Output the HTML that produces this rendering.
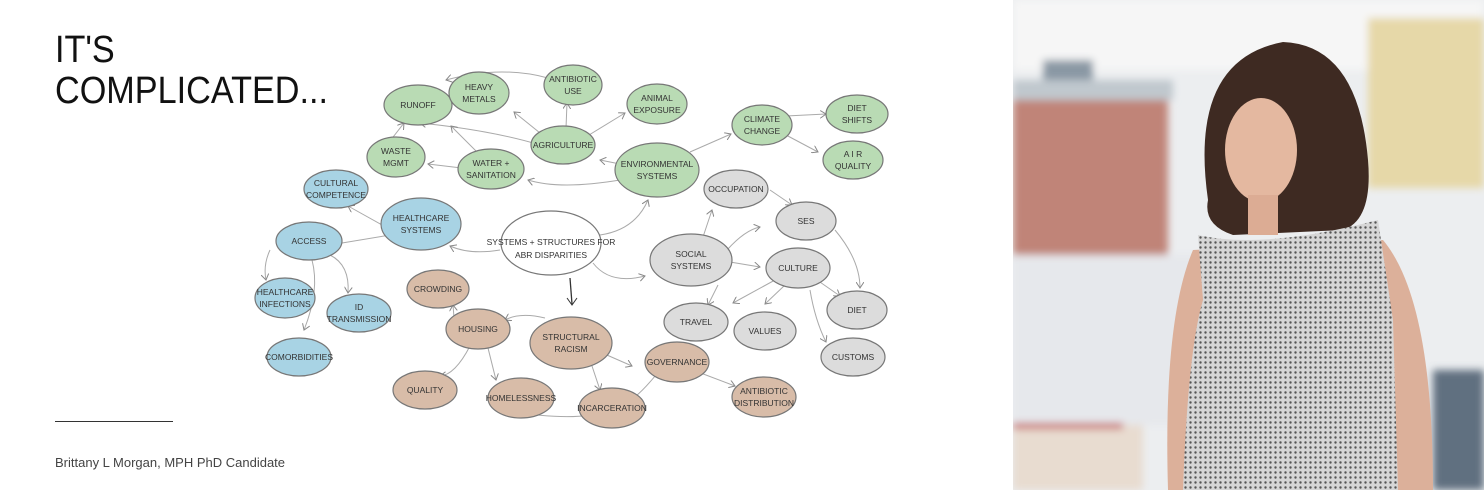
<!DOCTYPE html>
<html><head><meta charset="utf-8"><style>
body{margin:0;width:1484px;height:490px;background:#fff;overflow:hidden;position:relative;font-family:"Liberation Sans",sans-serif}
.t{position:absolute;left:55px;top:30px;font-size:38px;line-height:41px;color:#111;font-weight:300;transform:scaleX(0.9);transform-origin:left}
.ln{position:absolute;left:55px;top:421px;width:118px;height:1px;background:#333}
.ft{position:absolute;left:55px;top:455px;font-size:13px;color:#444}
svg text{font-family:"Liberation Sans",sans-serif;font-size:8.5px;fill:#333;text-anchor:middle}
</style></head><body>
<div class="t">IT'S<br>COMPLICATED...</div>
<div class="ln"></div>
<div class="ft">Brittany L Morgan, MPH PhD Candidate</div>
<svg width="1484" height="490" style="position:absolute;left:0;top:0">
<defs><marker id="a" markerWidth="8" markerHeight="8" refX="6" refY="4" orient="auto"><path d="M0,0 L6,4 L0,8" fill="none" stroke="#888" stroke-width="1"/></marker>
<pattern id="dots" width="5" height="5" patternUnits="userSpaceOnUse"><rect width="5" height="5" fill="#d6d6d6"/><circle cx="2.5" cy="2.5" r="1.2" fill="#555"/></pattern>
<filter id="bl"><feGaussianBlur stdDeviation="4"/></filter></defs>
<g stroke="#aaa" stroke-width="1" fill="none" marker-end="url(#a)">
<path d="M548,78 Q500,65 446,80"/><path d="M450,97 L439,99"/><path d="M540,145 Q490,130 420,123"/>
<path d="M545,137 L514,112"/><path d="M566,128 L567,103"/><path d="M589,135 L625,113"/>
<path d="M480,155 L451,126"/><path d="M470,169 L428,164"/><path d="M390,141 L404,123"/>
<path d="M620,180 Q560,190 528,180"/><path d="M625,165 L600,160"/><path d="M690,152 L731,134"/>
<path d="M786,116 L826,114"/><path d="M786,135 L818,152"/>
<path d="M600,235 Q635,230 648,200"/><path d="M500,250 Q470,255 450,246"/><path d="M384,226 L348,206"/>
<path d="M390,235 L330,245"/><path d="M270,250 Q263,265 266,280"/><path d="M312,260 Q320,290 304,330"/><path d="M330,255 Q350,265 348,293"/>
<path d="M593,263 Q610,285 645,276"/><path d="M703,237 L712,210"/><path d="M727,250 Q745,230 760,227"/><path d="M730,262 L760,267"/>
<path d="M770,190 L792,205"/><path d="M835,230 Q860,260 860,288"/><path d="M817,280 L840,296"/>
<path d="M785,285 L765,304"/><path d="M775,280 L733,303"/><path d="M810,290 Q815,320 826,342"/><path d="M718,285 L708,305"/>
<path d="M545,318 Q520,312 505,320"/><path d="M600,352 L632,366"/><path d="M590,360 L600,390"/>
<path d="M470,346 Q455,375 440,376"/><path d="M488,348 L496,380"/><path d="M660,370 Q640,395 630,400"/><path d="M698,372 L735,386"/>
<path d="M590,415 Q560,420 500,410"/><path d="M455,330 L453,305"/>
</g>
<g stroke="#777" stroke-width="1.2">
<g fill="#b9dbb4">
<ellipse cx="418" cy="105" rx="34" ry="20"/><ellipse cx="479" cy="93" rx="30" ry="21"/><ellipse cx="573" cy="85" rx="29" ry="20"/>
<ellipse cx="657" cy="104" rx="30" ry="20"/><ellipse cx="563" cy="145" rx="32" ry="19"/><ellipse cx="491" cy="169" rx="33" ry="20"/>
<ellipse cx="396" cy="157" rx="29" ry="20"/><ellipse cx="657" cy="170" rx="42" ry="27"/><ellipse cx="762" cy="125" rx="30" ry="20"/>
<ellipse cx="857" cy="114" rx="31" ry="19"/><ellipse cx="853" cy="160" rx="30" ry="19"/></g>
<g fill="#a8d3e4">
<ellipse cx="336" cy="189" rx="32" ry="19"/><ellipse cx="421" cy="224" rx="40" ry="26"/><ellipse cx="309" cy="241" rx="33" ry="19"/>
<ellipse cx="285" cy="298" rx="30" ry="20"/><ellipse cx="359" cy="313" rx="32" ry="19"/><ellipse cx="299" cy="357" rx="32" ry="19"/></g>
<ellipse cx="551" cy="243" rx="50" ry="32" fill="#fff"/>
<g fill="#dcdcdc">
<ellipse cx="736" cy="189" rx="32" ry="19"/><ellipse cx="806" cy="221" rx="30" ry="19"/><ellipse cx="691" cy="260" rx="41" ry="26"/>
<ellipse cx="798" cy="268" rx="32" ry="20"/><ellipse cx="857" cy="310" rx="30" ry="19"/><ellipse cx="696" cy="322" rx="32" ry="19"/>
<ellipse cx="765" cy="331" rx="31" ry="19"/><ellipse cx="853" cy="357" rx="32" ry="19"/></g>
<g fill="#d8bca8">
<ellipse cx="438" cy="289" rx="31" ry="19"/><ellipse cx="478" cy="329" rx="32" ry="20"/><ellipse cx="571" cy="343" rx="41" ry="26"/>
<ellipse cx="677" cy="362" rx="32" ry="20"/><ellipse cx="425" cy="390" rx="32" ry="19"/><ellipse cx="521" cy="398" rx="33" ry="20"/>
<ellipse cx="612" cy="408" rx="33" ry="20"/><ellipse cx="764" cy="397" rx="32" ry="20"/></g>
</g>
<path d="M570,278 L572,304" stroke="#333" stroke-width="1.3" fill="none"/><path d="M567,298 L572,305 L577,298" stroke="#333" fill="none"/>
<g>
<text x="418" y="108">RUNOFF</text><text x="479" y="90">HEAVY</text><text x="479" y="102">METALS</text>
<text x="573" y="82">ANTIBIOTIC</text><text x="573" y="94">USE</text><text x="657" y="101">ANIMAL</text><text x="657" y="113">EXPOSURE</text>
<text x="563" y="148">AGRICULTURE</text><text x="491" y="166">WATER +</text><text x="491" y="178">SANITATION</text>
<text x="396" y="154">WASTE</text><text x="396" y="166">MGMT</text><text x="657" y="167">ENVIRONMENTAL</text><text x="657" y="179">SYSTEMS</text>
<text x="762" y="122">CLIMATE</text><text x="762" y="134">CHANGE</text><text x="857" y="111">DIET</text><text x="857" y="123">SHIFTS</text>
<text x="853" y="157">A I R</text><text x="853" y="169">QUALITY</text>
<text x="336" y="186">CULTURAL</text><text x="336" y="198">COMPETENCE</text><text x="421" y="221">HEALTHCARE</text><text x="421" y="233">SYSTEMS</text>
<text x="309" y="244">ACCESS</text><text x="285" y="295">HEALTHCARE</text><text x="285" y="307">INFECTIONS</text>
<text x="359" y="310">ID</text><text x="359" y="322">TRANSMISSION</text><text x="299" y="360">COMORBIDITIES</text>
<text x="551" y="245">SYSTEMS + STRUCTURES FOR</text><text x="551" y="258">ABR DISPARITIES</text>
<text x="736" y="192">OCCUPATION</text><text x="806" y="224">SES</text><text x="691" y="257">SOCIAL</text><text x="691" y="269">SYSTEMS</text>
<text x="798" y="271">CULTURE</text><text x="857" y="313">DIET</text><text x="696" y="325">TRAVEL</text><text x="765" y="334">VALUES</text><text x="853" y="360">CUSTOMS</text>
<text x="438" y="292">CROWDING</text><text x="478" y="332">HOUSING</text><text x="571" y="340">STRUCTURAL</text><text x="571" y="352">RACISM</text>
<text x="677" y="365">GOVERNANCE</text><text x="425" y="393">QUALITY</text><text x="521" y="401">HOMELESSNESS</text>
<text x="612" y="411">INCARCERATION</text><text x="764" y="394">ANTIBIOTIC</text><text x="764" y="406">DISTRIBUTION</text>
</g>
<!-- photo -->
<svg x="1013" y="0" width="471" height="490" overflow="hidden">
<rect x="0" y="0" width="471" height="490" fill="#eceef0"/>
<g filter="url(#bl)">
<rect x="0" y="0" width="471" height="70" fill="#f6f6f6"/>
<rect x="30" y="60" width="50" height="35" fill="#8a98a4"/>
<rect x="0" y="80" width="160" height="20" fill="#c0c8ce"/>
<rect x="0" y="100" width="155" height="155" fill="#c08478"/>
<rect x="355" y="18" width="116" height="170" fill="#e6d8a8"/>
<rect x="0" y="255" width="200" height="170" fill="#e6e8ec"/>
<rect x="0" y="425" width="130" height="65" fill="#e8dcd0"/>
<rect x="0" y="423" width="110" height="6" fill="#c86868"/>
<rect x="420" y="370" width="51" height="120" fill="#607080"/>
</g>
<path d="M195,200 Q175,60 270,42 Q345,45 355,160 Q360,220 330,230 L220,235 Q190,225 195,200 Z" fill="#3e2a22"/>
<ellipse cx="248" cy="150" rx="36" ry="52" fill="#e4b8a0"/>
<rect x="235" y="195" width="30" height="40" fill="#dcac94"/>
<path d="M155,490 Q150,320 180,250 L370,240 Q420,300 420,490 Z" fill="#dcb09a"/>
<path d="M185,235 Q250,250 365,220 L380,320 L385,490 L170,490 Q175,350 190,300 Z" fill="url(#dots)"/>
</svg>
</svg>
</body></html>
